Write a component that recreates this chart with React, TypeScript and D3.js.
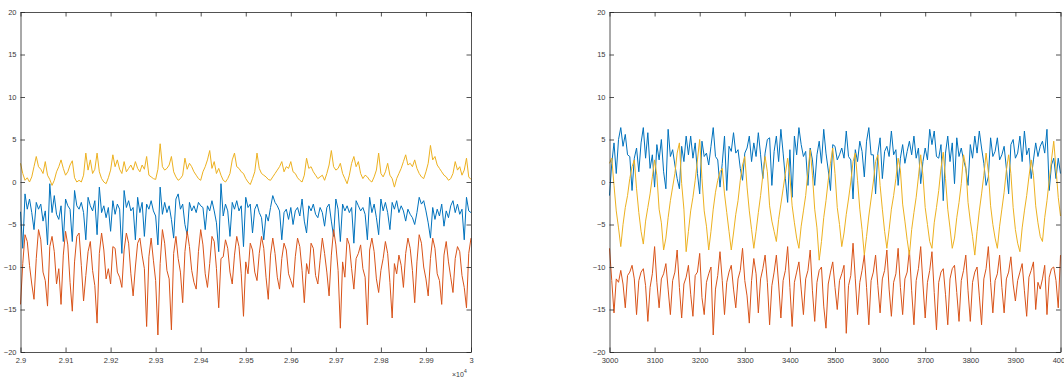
import React, { useEffect, useRef } from "react";
import * as d3 from "d3";

// sample spacing of the recorded signals
const step = 5;
const leftStart = 29000;
const rightStart = 3000;

const leftYellow = [
  2.2, 1.0, 0.2, 0.5, 0.0, 0.6, 1.8, 3.0, 1.8, 1.5,
  1.0, 2.4, 0.8, 0.3, -0.4, 0.2, 1.2, 1.8, 2.6, 1.6,
  0.8, 1.2, 2.0, 2.5, 0.5, 0.0, 0.2, 0.0, 0.8, 3.4,
  1.4, 2.6, 1.0, 1.5, 3.4, 1.2, 0.4, 0.0, -0.2, 0.5,
  1.4, 3.2, 1.8, 2.6, 1.5, 1.0, 2.4, 1.2, 1.6, 2.0,
  1.4, 2.4, 1.6, 1.2, 2.0, 1.5, 3.0, 0.8, 0.6, 0.4,
  0.3, 1.5, 4.5, 1.8, 1.4, 1.6, 2.0, 3.0, 1.2, 0.6,
  0.2, 0.4, 0.8, 2.8, 1.5, 2.2, 1.8, 1.2, 0.8, 0.4,
  0.2, 1.2, 1.8, 2.6, 3.7, 1.6, 2.4, 1.0, 1.6, 0.8,
  0.2, 0.0, 0.4, 1.0, 2.6, 3.4, 1.8, 1.6, 1.2, 1.0,
  0.4, 0.0, -0.3, 0.4, 1.2, 3.4, 1.6, 1.0, 0.8, 0.6,
  0.3, 0.2, 0.6, 1.0, 1.4, 1.8, 2.4, 1.2, 1.8, 1.6,
  2.4, 1.2, 1.0, 0.5, 0.2, 0.0, 0.8, 2.8, 1.6, 1.8,
  1.2, 0.8, 0.4, 0.6, 0.8, 0.2, 1.0, 2.0, 3.7, 1.8,
  1.4, 1.6, 2.2, 1.0, 0.4, -0.2, 0.8, 2.2, 3.0, 1.8,
  2.4, 1.0, 0.4, 0.8, 0.6, 0.2, 0.0, 0.6, 1.4, 3.4,
  1.0, 0.6, 1.2, 2.2, 0.8, 0.4, -0.6, 0.4, 1.0, 1.6,
  2.4, 3.2, 2.0, 2.2, 1.8, 2.6, 1.6, 1.0, 0.6, 0.4,
  1.2, 2.2, 4.3, 2.6, 3.0, 2.0, 1.6, 1.2, 0.8, 0.6,
  0.2, 0.4, 1.0, 2.4, 1.4, 1.8, 0.8, 1.4, 2.8, 0.6,
  0.3,
];

const leftBlue = [
  -3.5, -7.8, -1.4, -3.2, -2.0, -3.6, -5.6, -2.4, -3.2, -2.6,
  -4.6, -3.4, -7.4, -0.2, -3.6, -1.6, -3.8, -4.4, -2.8, -7.0,
  -2.0, -2.8, -3.2, -7.0, -1.0, -2.8, -3.2, -2.4, -3.6, -6.8,
  -1.8, -2.8, -3.4, -2.2, -6.2, -0.6, -3.6, -2.8, -4.2, -3.0,
  -5.8, -2.2, -3.8, -2.6, -3.2, -8.4, -1.0, -3.0, -2.2, -3.4,
  -3.0, -6.8, -1.8, -3.6, -2.4, -6.4, -2.6, -3.2, -2.2, -3.4,
  -4.0, -7.4, -0.6, -3.8, -2.4, -3.6, -2.8, -4.4, -6.6, -2.0,
  -1.4, -3.2, -2.6, -5.0, -6.2, -2.4, -3.4, -2.8, -3.6, -2.4,
  -2.8, -3.0, -5.6, -2.8, -3.4, -2.2, -3.4, -4.8, -8.2, -0.2,
  -4.0, -2.6, -3.4, -6.4, -2.4, -3.2, -2.2, -3.4, -2.8, -7.6,
  -1.8, -3.0, -2.6, -6.0, -3.2, -2.6, -3.6, -4.2, -6.8, -3.8,
  -4.6, -3.0, -1.6, -2.4, -2.8, -3.4, -6.8, -3.6, -3.2, -4.4,
  -3.0, -5.0, -3.4, -3.0, -4.0, -2.0, -4.6, -6.0, -2.8, -3.4,
  -2.6, -3.8, -4.2, -3.0, -3.6, -5.2, -3.0, -2.6, -4.6, -6.4,
  -2.0, -3.2, -7.0, -2.6, -3.4, -2.8, -3.6, -3.0, -7.2, -2.2,
  -2.8, -3.4, -3.0, -3.8, -6.8, -1.8, -3.6, -2.6, -4.2, -6.2,
  -2.0, -3.4, -2.4, -3.6, -5.6, -2.4, -3.2, -2.2, -3.6, -2.8,
  -3.4, -4.6, -3.2, -3.8, -4.2, -5.0, -3.6, -1.8, -2.6, -2.2,
  -3.4, -4.8, -6.6, -3.0, -4.4, -3.2, -4.0, -2.6, -5.2, -3.4,
  -4.2, -2.8, -2.2, -3.6, -2.6, -3.8, -3.2, -6.8, -1.8, -3.4,
  -3.6,
];

const leftOrange = [
  -14.4, -9.6, -6.2, -7.0, -9.8, -12.0, -13.8, -9.0, -5.6, -6.8,
  -10.6, -11.6, -14.6, -7.6, -6.4, -8.2, -12.0, -10.2, -14.4, -8.6,
  -5.8, -7.4, -11.8, -15.2, -9.4, -6.4, -6.0, -9.8, -14.0, -11.0,
  -8.2, -7.0, -10.4, -12.2, -16.6, -8.4, -6.0, -8.0, -11.4, -10.2,
  -12.0, -7.6, -7.8, -10.6, -11.2, -12.4, -8.0, -6.0, -7.2, -10.8,
  -13.4, -10.0, -7.2, -6.6, -8.6, -10.2, -17.0, -8.8, -6.6, -9.2,
  -11.6, -18.0, -9.6, -5.6, -7.2, -10.4, -11.4, -17.4, -8.4, -6.4,
  -9.0, -10.6, -14.2, -8.2, -5.8, -7.6, -10.4, -11.8, -12.6, -8.2,
  -5.6, -7.4, -10.8, -12.4, -9.6, -6.4, -7.0, -10.2, -14.8, -9.0,
  -8.8, -6.8, -7.8, -10.6, -12.0, -8.6, -6.4, -7.6, -10.8, -15.8,
  -9.4, -10.8, -7.2, -8.0, -10.6, -11.6, -8.4, -6.4, -7.8, -11.2,
  -13.8, -8.6, -6.6, -8.4, -11.2, -12.6, -9.0, -7.2, -8.0, -10.8,
  -11.6, -12.4, -8.8, -6.6, -7.6, -10.4, -14.2, -9.6, -10.8, -7.2,
  -7.8, -11.0, -12.0, -9.2, -6.6, -8.4, -10.6, -13.4, -8.6, -5.6,
  -7.4, -10.4, -17.2, -9.4, -11.2, -6.6, -7.4, -10.2, -12.6, -9.0,
  -8.4, -7.4, -10.2, -11.2, -16.8, -8.0, -6.6, -8.2, -11.4, -13.0,
  -10.4, -9.0, -7.0, -8.4, -11.8, -16.0, -9.6, -10.8, -8.6, -9.8,
  -12.4, -8.4, -6.6, -7.8, -10.4, -14.2, -9.4, -6.2, -7.2, -10.0,
  -11.4, -13.4, -9.0, -6.6, -7.8, -10.8, -11.6, -14.4, -8.6, -7.0,
  -9.4, -11.2, -13.0, -9.0, -7.6, -8.2, -11.0, -12.4, -14.8, -8.4,
  -6.6,
];

const rightYellow = [
  2.2, 2.8, -0.4, -3.4, -5.4, -7.6, -5.0, -3.0, -1.6, 0.4,
  1.8, 2.6, -0.8, -3.6, -5.8, -7.3, -4.6, -3.0, -1.4, 0.6,
  2.6, 0.8, -3.2, -4.8, -8.0, -6.6, -4.2, -2.2, -0.6, 1.0,
  3.4, 4.6, -0.2, -3.2, -8.2, -5.8, -3.4, -1.8, 0.2, 2.6,
  5.0, 0.4, -3.4, -5.2, -8.0, -5.8, -3.2, -1.2, 0.2, 1.2,
  1.6, -1.4, -3.6, -5.8, -8.0, -6.0, -3.8, -2.2, 0.2, 2.0,
  3.0, -0.6, -3.4, -5.6, -7.8, -5.8, -3.6, -1.6, 0.8, 3.0,
  1.2, -2.8, -4.6, -5.8, -7.0, -4.4, -2.6, -0.8, 1.0, 2.8,
  0.6, -2.8, -4.8, -6.6, -7.8, -5.2, -3.4, -1.6, 1.2, 3.8,
  0.8, -3.2, -5.4, -9.2, -7.0, -4.2, -2.2, 0.2, 2.2, 4.0,
  1.0, -3.0, -5.0, -7.6, -6.0, -3.8, -2.0, 0.0, 2.4, 3.4,
  0.2, -3.2, -5.6, -8.6, -6.4, -4.0, -2.0, 0.0, 2.4, 3.2,
  -0.4, -3.2, -5.8, -7.8, -5.6, -3.2, -1.6, 0.4, 2.8, 1.4,
  -2.6, -4.6, -6.8, -8.6, -5.6, -3.6, -1.8, 0.6, 3.2, 0.8,
  -3.0, -5.0, -7.0, -7.8, -4.8, -3.0, -1.0, 1.6, 3.5, 0.4,
  -3.2, -5.4, -7.8, -6.6, -4.2, -2.4, -0.2, 3.2, 1.8, -2.4,
  -4.6, -6.4, -8.6, -5.8, -3.4, -1.4, 0.8, 3.4, 1.2, -2.8,
  -5.0, -6.6, -7.8, -5.2, -3.2, -1.2, 1.4, 3.2, 1.0, -3.0,
  -5.6, -7.2, -8.2, -5.4, -3.4, -1.6, 0.6, 2.6, 0.8, -2.8,
  -4.8, -6.4, -7.0, -4.2, -2.2, 0.2, 2.6, 4.8, 1.6, -1.8,
  -4.0,
];

const rightBlue = [
  -1.6, 2.2, 4.6, 1.0, 5.0, 6.4, 4.2, 5.6, 3.2, 3.0,
  -1.0, 2.8, 4.0, 1.2, 4.6, 6.4, 2.8, 5.8, 1.6, 3.2,
  -0.6, 4.4, 2.6, 5.0, 1.2, -0.8, 6.2, 3.0, 3.8, 2.0,
  0.4, -0.8, 4.2, 2.4, 5.4, 3.2, 5.4, 2.8, 4.6, 1.0,
  -1.4, 4.8, 3.0, 3.4, 2.0, 4.2, 6.4, 3.0, 2.6, -0.6,
  2.2, 5.4, -1.0, 4.2, 3.6, 5.8, 3.4, 3.8, 1.6, 0.2,
  3.4, 4.0, 5.4, 2.4, 4.6, 3.0, 5.8, 3.2, 0.4, 3.4,
  5.0, 5.2, -0.4, 3.6, 5.4, 2.4, 6.2, 3.4, 0.4, -2.4,
  3.8, -1.8, 5.4, 3.2, 6.4, 4.4, 3.0, 3.6, -0.4, 4.0,
  2.6, -0.4, 3.2, 4.8, 2.2, 6.2, 3.4, 1.4, -1.0, 4.4,
  4.2, 2.6, 3.2, 4.0, 2.8, 6.0, 3.0, 2.6, -2.0, 3.8,
  2.4, 4.8, 3.6, 0.6, 4.8, 6.4, 3.2, 3.2, -1.4, 3.4,
  5.2, 0.4, 3.6, 4.2, 3.0, 6.0, 3.2, 3.8, -0.4, 2.8,
  4.4, 2.2, 3.6, 4.8, 3.2, 5.4, 2.8, 4.0, -0.2, 2.4,
  4.0, 2.6, 6.2, 4.4, 6.0, 3.0, 2.8, 4.4, -2.2, 3.4,
  5.4, 2.4, 4.6, -0.2, 5.2, 3.0, 4.0, 2.6, 1.6, -0.4,
  4.4, 2.8, 5.4, 3.4, 6.0, 4.0, 2.2, -0.4, 0.6, 5.2,
  3.0, 3.6, 5.2, 2.6, 3.2, 4.2, 1.6, -1.4, 4.4, 5.0,
  2.8, 3.4, 5.4, 2.4, 6.0, 3.2, 4.0, 0.4, 2.6, 4.6,
  3.0, 4.2, 4.8, 3.4, 6.2, -1.0, 2.0, 2.8, 0.4, 2.8,
  1.0,
];

const rightOrange = [
  -7.8, -11.6, -15.4, -11.4, -11.8, -10.4, -12.0, -14.8, -11.0, -10.6,
  -9.8, -11.4, -15.6, -11.6, -10.6, -10.2, -12.2, -16.4, -12.4, -10.8,
  -7.6, -11.8, -14.8, -11.4, -10.8, -9.6, -12.6, -15.6, -11.6, -10.6,
  -8.0, -12.4, -16.0, -12.0, -11.2, -9.8, -13.2, -15.8, -11.0, -10.6,
  -8.4, -13.6, -15.6, -11.8, -10.8, -10.0, -18.0, -12.6, -11.0, -8.2,
  -11.6, -15.6, -11.8, -10.6, -9.8, -12.6, -14.8, -11.4, -10.4, -7.8,
  -11.6, -13.4, -16.6, -11.6, -9.0, -10.8, -15.4, -11.4, -10.2, -8.6,
  -11.8, -16.8, -12.2, -10.6, -8.6, -12.0, -16.0, -11.6, -10.4, -7.6,
  -12.4, -17.0, -11.8, -10.6, -9.4, -12.6, -15.6, -11.4, -10.4, -8.0,
  -12.8, -16.4, -11.8, -10.4, -10.0, -14.6, -17.2, -12.0, -10.6, -9.4,
  -12.4, -15.0, -11.6, -10.8, -9.8, -17.8, -12.2, -11.0, -7.2, -11.4,
  -15.6, -11.8, -10.4, -8.6, -12.4, -16.8, -11.6, -10.6, -8.6, -12.2,
  -15.4, -11.4, -10.4, -8.0, -12.6, -15.8, -11.8, -10.8, -7.8, -12.4,
  -15.6, -11.4, -10.6, -8.0, -12.8, -16.8, -11.6, -10.2, -7.6, -12.0,
  -16.0, -11.8, -10.4, -8.2, -13.0, -17.4, -11.8, -10.6, -10.2, -13.2,
  -16.8, -11.4, -10.2, -9.8, -13.0, -16.4, -11.6, -10.4, -8.6, -12.8,
  -16.4, -11.8, -10.6, -10.0, -13.4, -16.8, -11.4, -10.2, -7.6, -11.8,
  -15.4, -11.6, -10.8, -8.6, -12.4, -15.4, -11.4, -10.6, -8.8, -12.0,
  -14.0, -11.6, -10.6, -9.6, -12.8, -15.8, -11.2, -10.4, -9.4, -15.0,
  -11.8, -12.6, -11.4, -9.8, -15.6, -11.2, -10.2, -10.0, -11.6, -14.8,
  -8.6,
];

const yTicks = [-20, -15, -10, -5, 0, 5, 10, 15, 20];
const leftXTicks = [29000, 29100, 29200, 29300, 29400, 29500, 29600, 29700, 29800, 29900, 30000];
const leftXLabels = ["2.9", "2.91", "2.92", "2.93", "2.94", "2.95", "2.96", "2.97", "2.98", "2.99", "3"];
const rightXTicks = [3000, 3100, 3200, 3300, 3400, 3500, 3600, 3700, 3800, 3900, 4000];
const rightXLabels = ["3000", "3100", "3200", "3300", "3400", "3500", "3600", "3700", "3800", "3900", "4000"];

const blue = "#0072BD";
const orange = "#D95319";
const yellow = "#EDB120";

const axisColor = "#262626";
const font = "'Liberation Sans', Arial, Helvetica, sans-serif";

const drawPanel = (svg, p) => {
  const x = d3.scaleLinear().domain([p.xTicks[0], p.xTicks[p.xTicks.length - 1]]).range([p.left, p.right]);
  const y = d3.scaleLinear().domain([-20, 20]).range([p.bottom, p.top]);
  const tick = -4.5;

  const styleAxis = (g) => {
    g.attr("font-family", font).attr("font-size", 7.5);
    g.selectAll(".domain").attr("stroke", axisColor).attr("stroke-width", 0.8);
    g.selectAll(".tick line").attr("stroke", axisColor).attr("stroke-width", 0.8);
    g.selectAll(".tick text").attr("fill", "#3a3a3a");
  };

  // lines first, box on top
  const line = (vals) =>
    d3
      .line()
      .x((d, i) => x(p.start + i * step))
      .y((d) => y(d))(vals);

  const g = svg.append("g");
  p.series.forEach((s) => {
    g.append("path")
      .attr("d", line(s.values))
      .attr("fill", "none")
      .attr("stroke", s.color)
      .attr("stroke-width", 1)
      .attr("stroke-linejoin", "round");
  });

  svg
    .append("g")
    .attr("transform", `translate(0,${p.bottom})`)
    .call(
      d3
        .axisBottom(x)
        .tickValues(p.xTicks)
        .tickFormat((d, i) => p.xLabels[i])
        .tickSizeInner(tick)
        .tickSizeOuter(0)
        .tickPadding(6)
    )
    .call(styleAxis);

  svg
    .append("g")
    .attr("transform", `translate(0,${p.top})`)
    .call(d3.axisTop(x).tickValues(p.xTicks).tickFormat(() => "").tickSizeInner(tick).tickSizeOuter(0))
    .call(styleAxis);

  svg
    .append("g")
    .attr("transform", `translate(${p.left},0)`)
    .call(d3.axisLeft(y).tickValues(yTicks).tickSizeInner(tick).tickSizeOuter(0).tickPadding(4))
    .call(styleAxis);

  svg
    .append("g")
    .attr("transform", `translate(${p.right},0)`)
    .call(d3.axisRight(y).tickValues(yTicks).tickFormat(() => "").tickSizeInner(tick).tickSizeOuter(0))
    .call(styleAxis);

  if (p.exponent) {
    const t = svg
      .append("text")
      .attr("x", p.right - 19)
      .attr("y", p.bottom + 24.5)
      .attr("font-family", font)
      .attr("font-size", 7)
      .attr("fill", "#3a3a3a");
    t.append("tspan").text("×10");
    t.append("tspan").attr("font-size", 5).attr("dy", -4).text(p.exponent);
  }
};

const App = () => {
  const ref = useRef(null);

  useEffect(() => {
    const width = 1064;
    const height = 378;
    const svg = d3.select(ref.current).attr("width", width).attr("height", height);
    svg.selectAll("*").remove();

    drawPanel(svg, {
      left: 20.5,
      right: 471,
      top: 12,
      bottom: 352,
      start: leftStart,
      xTicks: leftXTicks,
      xLabels: leftXLabels,
      exponent: "4",
      series: [
        { values: leftBlue, color: blue },
        { values: leftOrange, color: orange },
        { values: leftYellow, color: yellow },
      ],
    });

    drawPanel(svg, {
      left: 609.5,
      right: 1060.5,
      top: 12,
      bottom: 352,
      start: rightStart,
      xTicks: rightXTicks,
      xLabels: rightXLabels,
      series: [
        { values: rightBlue, color: blue },
        { values: rightOrange, color: orange },
        { values: rightYellow, color: yellow },
      ],
    });
  }, []);

  return (
    <svg
      ref={ref}
      style={{ position: "absolute", left: 0, top: 0, background: "#fff", display: "block" }}
    ></svg>
  );
};

export default App;
